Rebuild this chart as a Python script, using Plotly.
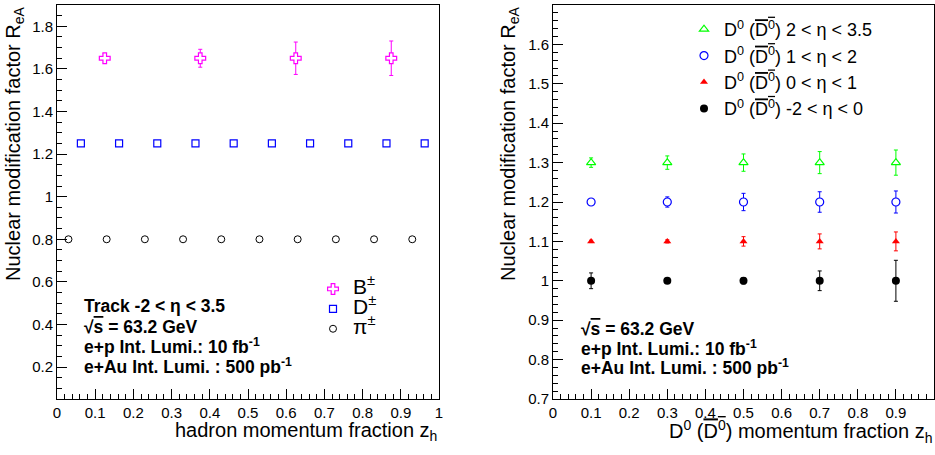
import plotly.graph_objects as go

# ---------------- data ----------------
# Left panel: hadron momentum fraction z_h
pion_z = [0.03, 0.13, 0.23, 0.33, 0.43, 0.53, 0.63, 0.73, 0.83, 0.93]
pion_R = [0.8, 0.8, 0.8, 0.8, 0.8, 0.8, 0.8, 0.8, 0.8, 0.8]
pion_err = [0.002, 0.002, 0.002, 0.002, 0.002, 0.002, 0.002, 0.002, 0.002, 0.002]

dpm_z = [0.0625, 0.1625, 0.2625, 0.3625, 0.4625, 0.5625, 0.6625, 0.7625, 0.8625, 0.9625]
dpm_R = [1.25, 1.25, 1.25, 1.25, 1.25, 1.25, 1.25, 1.25, 1.25, 1.25]
dpm_err = [0.002, 0.002, 0.002, 0.002, 0.002, 0.003, 0.003, 0.004, 0.006, 0.009]

bpm_z = [0.125, 0.375, 0.625, 0.875]
bpm_R = [1.65, 1.65, 1.65, 1.65]
bpm_err = [0.022, 0.042, 0.076, 0.081]

# Right panel: D0 momentum fraction, by eta bin
d0_z = [0.1, 0.3, 0.5, 0.7, 0.9]
eta4_R = [1.3, 1.3, 1.3, 1.3, 1.3]          # 2 < eta < 3.5
eta4_err = [0.012, 0.017, 0.022, 0.028, 0.032]
eta3_R = [1.2, 1.2, 1.2, 1.2, 1.2]          # 1 < eta < 2
eta3_err = [0.005, 0.013, 0.022, 0.026, 0.028]
eta2_R = [1.1, 1.1, 1.1, 1.1, 1.1]          # 0 < eta < 1
eta2_err = [0.003, 0.004, 0.012, 0.019, 0.024]
eta1_R = [1.0, 1.0, 1.0, 1.0, 1.0]          # -2 < eta < 0
eta1_err = [0.02, 0.005, 0.008, 0.025, 0.052]

x_ticks = [0, 0.1, 0.2, 0.3, 0.4, 0.5, 0.6, 0.7, 0.8, 0.9, 1]

# ---------------- figure ----------------
W, H = 935, 455
FONT = "Liberation Sans, Arial, Helvetica, sans-serif"

def px_x(p):
    return p / W

def px_y(p):
    return 1 - p / H

D0BAR = 'D<sup>0</sup> (<span style="text-decoration:overline">D<sup>0</sup></span>)'

fig = go.Figure()

def err(vals, color):
    return dict(type="data", array=vals, visible=True, thickness=1, width=2, color=color)

def hollow(symbol, size, color, lw=1.2):
    # white-filled marker so that the error bar is hidden inside it (as in ROOT)
    return dict(symbol=symbol, size=size, color="white", line=dict(width=lw, color=color))

# left panel traces (legend order B, D, pi)
fig.add_trace(go.Scatter(
    x=bpm_z, y=bpm_R, mode="markers", name='<span style="font-size:21px">B<sup>±</sup></span>',
    marker=hollow("cross", 9, "#ff00ff"), error_y=err(bpm_err, "#ff00ff"),
    xaxis="x", yaxis="y", legend="legend"))
fig.add_trace(go.Scatter(
    x=dpm_z, y=dpm_R, mode="markers", name='<span style="font-size:21px">D<sup>±</sup></span>',
    marker=hollow("square", 7, "#0000ff"), error_y=err(dpm_err, "#0000ff"),
    xaxis="x", yaxis="y", legend="legend"))
fig.add_trace(go.Scatter(
    x=pion_z, y=pion_R, mode="markers", name='<span style="font-size:21px">π<sup>±</sup></span>',
    marker=hollow("circle", 7, "black", 1), error_y=err(pion_err, "black"),
    xaxis="x", yaxis="y", legend="legend"))

# right panel traces
fig.add_trace(go.Scatter(
    x=d0_z, y=eta4_R, mode="markers", name=D0BAR + " 2 &lt; η &lt; 3.5",
    marker=hollow("triangle-up", 8, "#00ff00"), error_y=err(eta4_err, "#00ff00"),
    xaxis="x2", yaxis="y2", legend="legend2"))
fig.add_trace(go.Scatter(
    x=d0_z, y=eta3_R, mode="markers", name=D0BAR + " 1 &lt; η &lt; 2",
    marker=hollow("circle", 8, "#0000ff"), error_y=err(eta3_err, "#0000ff"),
    xaxis="x2", yaxis="y2", legend="legend2"))
fig.add_trace(go.Scatter(
    x=d0_z, y=eta2_R, mode="markers", name=D0BAR + " 0 &lt; η &lt; 1",
    marker=dict(symbol="triangle-up", size=7, color="#ff0000"), error_y=err(eta2_err, "#ff0000"),
    xaxis="x2", yaxis="y2", legend="legend2"))
fig.add_trace(go.Scatter(
    x=d0_z, y=eta1_R, mode="markers", name=D0BAR + " -2 &lt; η &lt; 0",
    marker=dict(symbol="circle", size=8, color="black"), error_y=err(eta1_err, "black"),
    xaxis="x2", yaxis="y2", legend="legend2"))

axis_common = dict(
    showline=True, linecolor="black", linewidth=1, mirror=True,
    ticks="inside", ticklen=10, tickcolor="black", tickwidth=1,
    showgrid=False, zeroline=False, automargin=False,
    tickfont=dict(family=FONT, size=15, color="black"),
)
minor_common = dict(ticklen=5, ticks="inside", tickcolor="black", showgrid=False)

ydom = [(H - 399) / H, (H - 5) / H]

fig.update_layout(
    width=W, height=H,
    margin=dict(l=0, r=0, t=0, b=0, autoexpand=False),
    paper_bgcolor="white", plot_bgcolor="white",
    font=dict(family=FONT, color="black"),
    xaxis=dict(axis_common, domain=[px_x(57), px_x(439)], range=[0, 1],
               tickvals=x_ticks, anchor="y", minor=dict(minor_common, dtick=0.02, tick0=0)),
    yaxis=dict(axis_common, domain=ydom, range=[0.05, 1.9], tick0=0, dtick=0.2, anchor="x",
               minor=dict(minor_common, dtick=0.05, tick0=0)),
    xaxis2=dict(axis_common, domain=[px_x(553), px_x(934)], range=[0, 1],
                tickvals=x_ticks, anchor="y2", minor=dict(minor_common, dtick=0.02, tick0=0)),
    yaxis2=dict(axis_common, domain=ydom, range=[0.6999, 1.7001], tick0=0, dtick=0.1, anchor="x2",
                minor=dict(minor_common, dtick=0.02, tick0=0)),
    legend=dict(x=px_x(313), y=px_y(274), xanchor="left", yanchor="top",
                bgcolor="rgba(0,0,0,0)", borderwidth=0,
                font=dict(family=FONT, size=13, color="black"), tracegroupgap=0),
    legend2=dict(x=px_x(684), y=px_y(11), xanchor="left", yanchor="top",
                 bgcolor="rgba(0,0,0,0)", borderwidth=0,
                 font=dict(family=FONT, size=18, color="black"), tracegroupgap=0),
    showlegend=True,
)

ann = []
title_font = dict(family=FONT, size=20, color="black")
# axis titles
ytitle = "Nuclear modification factor R<sub>eA</sub>"
ann.append(dict(text=ytitle, textangle=-90, x=px_x(14), y=px_y(144), xref="paper", yref="paper",
                xanchor="center", yanchor="middle", showarrow=False, font=title_font))
ann.append(dict(text=ytitle, textangle=-90, x=px_x(509), y=px_y(144), xref="paper", yref="paper",
                xanchor="center", yanchor="middle", showarrow=False, font=title_font))
ann.append(dict(text="hadron momentum fraction z<sub>h</sub>",
                x=px_x(439), y=px_y(431), xref="paper", yref="paper",
                xanchor="right", yanchor="middle", showarrow=False, font=title_font))
ann.append(dict(text=D0BAR + " momentum fraction z<sub>h</sub>",
                x=px_x(934), y=px_y(431), xref="paper", yref="paper",
                xanchor="right", yanchor="middle", showarrow=False, font=title_font))

text_font = dict(family=FONT, size=17.5, color="black")
SQRTS = '√<span style="text-decoration:overline">s</span> = 63.2 GeV'
left_lines = ["Track -2 &lt; η &lt; 3.5", SQRTS,
              "e+p Int. Lumi.: 10 fb<sup>-1</sup>",
              "e+Au Int. Lumi. : 500 pb<sup>-1</sup>"]
left_ys = [306, 327, 346, 366]
for t, yy in zip(left_lines, left_ys):
    ann.append(dict(text="<b>" + t + "</b>", x=px_x(82), y=px_y(yy), xref="paper", yref="paper",
                    xanchor="left", yanchor="middle", showarrow=False, font=text_font))
right_lines = [SQRTS, "e+p Int. Lumi.: 10 fb<sup>-1</sup>", "e+Au Int. Lumi. : 500 pb<sup>-1</sup>"]
right_ys = [329, 348, 367]
for t, yy in zip(right_lines, right_ys):
    ann.append(dict(text="<b>" + t + "</b>", x=px_x(579), y=px_y(yy), xref="paper", yref="paper",
                    xanchor="left", yanchor="middle", showarrow=False, font=text_font))

fig.update_layout(annotations=ann)
fig.write_html("out.html", config={"displayModeBar": False},
               post_script="document.body.style.margin='0px';document.body.style.overflow='hidden';")
